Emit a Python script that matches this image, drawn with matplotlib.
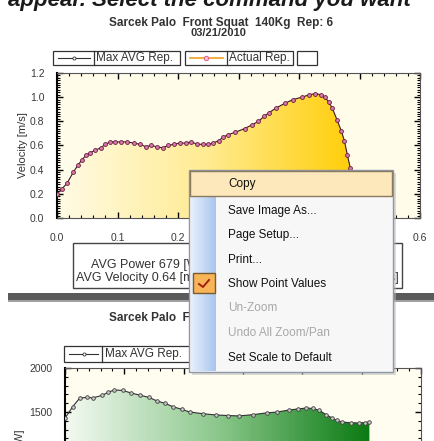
import numpy as np
import matplotlib.pyplot as plt
from matplotlib.colors import LinearSegmentedColormap
from matplotlib.patches import Rectangle
from matplotlib.ticker import MultipleLocator

plt.rcParams['font.family'] = ['Liberation Sans', 'DejaVu Sans']

# velocity of the actual rep (upper chart)
vel_t = [0.000, 0.008, 0.017, 0.027, 0.035, 0.041, 0.048, 0.055, 0.063, 0.072,
         0.080, 0.088, 0.096, 0.105, 0.115, 0.127, 0.137, 0.147, 0.155, 0.165,
         0.175, 0.183, 0.193, 0.203, 0.213, 0.222, 0.232, 0.242, 0.250, 0.258,
         0.267, 0.275, 0.283, 0.295, 0.310, 0.322, 0.333, 0.342, 0.350, 0.362,
         0.377, 0.390, 0.405, 0.417, 0.427, 0.436, 0.443, 0.449, 0.455, 0.463,
         0.470, 0.475, 0.480, 0.485, 0.490, 0.495, 0.500]
vel = [0.20, 0.24, 0.29, 0.38, 0.44, 0.48, 0.52, 0.54, 0.56, 0.58,
       0.61, 0.63, 0.63, 0.63, 0.63, 0.62, 0.61, 0.59, 0.60, 0.59,
       0.58, 0.60, 0.61, 0.62, 0.62, 0.63, 0.61, 0.61, 0.61, 0.62,
       0.64, 0.67, 0.69, 0.71, 0.74, 0.77, 0.80, 0.84, 0.87, 0.91,
       0.95, 0.98, 1.00, 1.02, 1.03, 1.02, 1.00, 0.96, 0.91, 0.81,
       0.72, 0.64, 0.52, 0.41, 0.30, 0.18, 0.05]

# power of the max AVG rep (lower chart)
pow_t = [0.000, 0.013, 0.025, 0.037, 0.047, 0.063, 0.073, 0.083, 0.097, 0.112,
         0.127, 0.142, 0.155, 0.168, 0.182, 0.197, 0.210, 0.233, 0.255, 0.275,
         0.293, 0.317, 0.340, 0.358, 0.378, 0.393, 0.407, 0.418, 0.428, 0.440,
         0.450, 0.458, 0.467, 0.482, 0.495, 0.505, 0.513]
power = [1430, 1560, 1660, 1665, 1660, 1690, 1725, 1750, 1745, 1715,
         1690, 1665, 1625, 1600, 1560, 1530, 1500, 1480, 1466, 1460,
         1455, 1470, 1490, 1500, 1523, 1535, 1545, 1540, 1520, 1470,
         1432, 1405, 1386, 1378, 1375, 1380, 1386]

menu_items = ['Copy', 'Save Image As...', 'Page Setup...', 'Print...',
              'Show Point Values', 'Un-Zoom', 'Undo All Zoom/Pan', 'Set Scale to Default']
menu_on = [True, True, True, True, True, False, False, True]

title = 'Sarcek Palo  Front Squat  140Kg  Rep: 6'

W, H = 435, 441
fig = plt.figure(figsize=(W / 100, H / 100), dpi=100)
fig.patch.set_facecolor('white')


def box(x0, y0, x1, y1):
    # pixel box (top-left origin) -> figure fraction rect
    return [x0 / W, 1 - y1 / H, (x1 - x0) / W, (y1 - y0) / H]


def grad_fill(ax, x, y, y0, colors):
    poly = ax.fill_between(x, y, y0, facecolor='none', edgecolor='none')
    cmap = LinearSegmentedColormap.from_list('g', colors)
    img = ax.imshow(np.linspace(0, 1, 256).reshape(1, -1), cmap=cmap, aspect='auto',
                    extent=[x[0], x[-1], y0, max(y)], origin='lower', zorder=1)
    img.set_clip_path(poly.get_paths()[0], transform=ax.transData)


def style_axes(ax):
    ax.tick_params(which='both', direction='in', top=True, right=True,
                   labelsize=7.5, labelcolor='#3a3a3a', pad=9)
    ax.tick_params(which='major', length=4, width=1)
    ax.tick_params(which='minor', length=2, width=0.8)
    for s in ax.spines.values():
        s.set_color('#555555')
        s.set_linewidth(0.8)
    ax.spines['left'].set_color('black')
    ax.spines['left'].set_linewidth(1.5)


# upper chart: velocity
ax1 = fig.add_axes(box(57, 73, 420, 218))
ax1.set_facecolor('#fffcea')
grad_fill(ax1, vel_t, vel, 0, ['#fffbe6', '#ffeb90', '#ffcc00'])
ax1.plot(vel_t, vel, color='#3a1a20', lw=0.8, marker='o', ms=2.8,
         mfc='#d878a8', mec='#6a2040', mew=0.6, zorder=3)
ax1.set_xlim(0, 0.6)
ax1.set_ylim(0, 1.2)
ax1.xaxis.set_major_locator(MultipleLocator(0.1))
ax1.xaxis.set_minor_locator(MultipleLocator(0.02))
ax1.yaxis.set_major_locator(MultipleLocator(0.2))
ax1.yaxis.set_minor_locator(MultipleLocator(0.02))
# 0.3 - 0.5 sit behind the context menu
ax1.xaxis.set_major_formatter(lambda v, p: '' if 0.25 < v < 0.55 else f'{v:.1f}')
ax1.yaxis.set_major_formatter(lambda v, p: f'{v:.1f}')
style_axes(ax1)
ax1.tick_params(axis='x', pad=11)
ax1.set_ylabel('Velocity [m/s]', fontsize=8, color='#333333')
ax1.yaxis.set_label_coords(-0.081, 0.5)

# lower chart: power (runs past the bottom of the screenshot)
ax2 = fig.add_axes(box(65, 368, 421, 544))
ax2.set_facecolor('#fffdf0')
grad_fill(ax2, pow_t, power, 0, ['#f4faf2', '#8cc88c', '#0a7a12'])
ax2.plot(pow_t, power, color='#303030', lw=0.8, marker='o', ms=2.6,
         mfc='#c8c8c8', mec='#404040', mew=0.6, zorder=3)
ax2.set_xlim(0, 0.6)
ax2.set_ylim(0, 2000)
ax2.xaxis.set_major_locator(MultipleLocator(0.1))
ax2.xaxis.set_minor_locator(MultipleLocator(0.02))
ax2.yaxis.set_major_locator(MultipleLocator(500))
ax2.yaxis.set_minor_locator(MultipleLocator(100))
style_axes(ax2)
ax2.tick_params(labelbottom=False)
ax2.yaxis.set_major_formatter(lambda v, p: f'{v:.0f}' if v >= 1500 else '')
ax2.set_ylabel('Power [W]', fontsize=8, color='#333333')
ax2.yaxis.set_label_coords(-0.112, 0.503)

# overlay in pixel coordinates for the window parts
ov = fig.add_axes([0, 0, 1, 1], zorder=10)
ov.set_xlim(0, W)
ov.set_ylim(H, 0)
ov.axis('off')
ov.patch.set_alpha(0)

ov.text(8, 6, 'appear. Select the command you want', fontsize=16, style='italic',
        weight='bold', color='#1a1a1a', va='baseline', ha='left')

ov.text(221, 23, title, fontsize=8.5, weight='bold', color='#333333',
        ha='center', va='center')
ov.text(218, 33, '03/21/2010', fontsize=8, weight='bold', color='#333333',
        ha='center', va='center')

# upper legend
for x0, x1 in [(53, 180), (185, 293), (297, 317)]:
    ov.add_patch(Rectangle((x0, 51), x1 - x0, 14, fc='white', ec='#333333', lw=0.9))
for xd in [94, 227]:
    ov.plot([xd, xd], [51, 65], color='#333333', lw=0.9)
ov.plot([58, 90], [58, 58], color='#333333', lw=0.8)
ov.plot([74], [58], marker='o', ms=2.2, mfc='white', mec='#333333', mew=0.6)
ov.text(96, 58, 'Max AVG Rep.', fontsize=8.5, color='#333333', va='center')
ov.plot([190, 223], [58, 58], color='#f0a020', lw=1.2)
ov.plot([206], [58], marker='o', ms=3.2, mfc='#f8c0d8', mec='#e06080', mew=0.7)
ov.text(229, 58, 'Actual Rep.', fontsize=8.5, color='#333333', va='center')

# info box
ov.add_patch(Rectangle((73, 243), 329, 45, fc='white', ec='#444444', lw=1.0))
ov.text(91, 265, 'AVG Power 679 [W]', fontsize=9, color='#333333',
        ha='left', va='center')
ov.text(76, 278, 'AVG Velocity 0.64 [m/s]', fontsize=9, color='#333333',
        ha='left', va='center')
ov.text(399, 278, 'Peak Velocity 1.03 [m/s]', fontsize=9, color='#333333',
        ha='right', va='center')

# divider between the two charts
ov.add_patch(Rectangle((8, 293), W - 8, 7, fc='#5a5a5a', ec='none'))
ov.add_patch(Rectangle((8, 300), W - 8, 1.5, fc='#a0a0a0', ec='none'))

# lower title and legend
ov.text(221, 318, title, fontsize=8.5, weight='bold', color='#333333',
        ha='center', va='center')
ov.add_patch(Rectangle((64, 346), 140, 16, fc='white', ec='#333333', lw=0.9))
ov.plot([102, 102], [346, 362], color='#333333', lw=0.9)
ov.plot([69, 98], [354, 354], color='#333333', lw=0.8)
ov.plot([84], [354], marker='o', ms=2.2, mfc='white', mec='#333333', mew=0.6)
ov.text(105, 354, 'Max AVG Rep.', fontsize=8.5, color='#333333', va='center')

# context menu on top of everything
ov.add_patch(Rectangle((192, 173), 204, 202, fc='#b8b8b8', ec='none', alpha=0.5, zorder=20))
ov.add_patch(Rectangle((189, 170), 204, 202, fc='#f7f7f7', ec='#8d97aa', lw=1.0, zorder=21))
strip = LinearSegmentedColormap.from_list('s', ['#e6effc', '#a9c5ee'])
ov.imshow(np.linspace(0, 1, 64).reshape(1, -1), cmap=strip, aspect='auto',
          extent=[191, 216, 371, 196], zorder=22)
ov.set_xlim(0, W)
ov.set_ylim(H, 0)
ov.add_patch(Rectangle((190, 171), 202, 25, fc='#fde8bc', ec='#8a7a60', lw=1.0, zorder=23))
ov.add_patch(Rectangle((193, 273), 22, 20, fc='#f7b558', ec='#7a5a30', lw=1.0, zorder=23))
ov.plot([199, 203, 209], [284, 287, 280], color='#a02010', lw=1.4, zorder=24)

menu_y = [184, 211, 235, 260, 284, 308, 333, 358]
for label, yy, on in zip(menu_items, menu_y, menu_on):
    ov.text(228, yy, label, fontsize=8.5, color='#111111' if on else '#a8a8a8',
            va='center', ha='left', zorder=25)

fig.savefig('out.png', dpi=100)
